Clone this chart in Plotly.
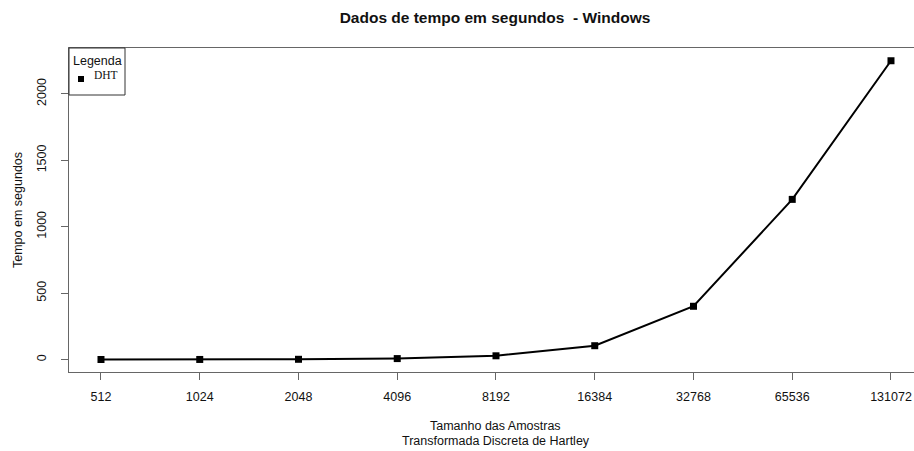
import plotly.graph_objects as go

# Sample sizes (categorical x axis) and DHT run time in seconds
sizes = ["512", "1024", "2048", "4096", "8192", "16384", "32768", "65536", "131072"]
dht_seconds = [0.1, 0.4, 1.7, 7, 28, 104, 401, 1206, 2250]
y_ticks = [0, 500, 1000, 1500, 2000]

FONT = "Liberation Sans, Arial, sans-serif"
AXIS_COLOR = "#666666"
pos = list(range(len(sizes)))

fig = go.Figure()
fig.add_trace(go.Scatter(
    x=pos, y=dht_seconds, mode="lines+markers", name="DHT",
    line=dict(color="black", width=2),
    marker=dict(symbol="square", size=7, color="black"),
    showlegend=False,
))

fig.update_layout(
    width=914, height=451,
    margin=dict(l=69, r=0, t=48, b=79),
    paper_bgcolor="white", plot_bgcolor="white",
    font=dict(family=FONT, size=12, color="#111111"),
    title=dict(
        text="<b>Dados de tempo em segundos  - Windows</b>",
        x=495 / 914, xanchor="center", xref="container",
        y=1 - 18 / 451, yanchor="middle", yref="container",
        font=dict(family=FONT, size=15.5, color="#111111"),
    ),
    xaxis=dict(
        range=[-0.324, 8.233], tickvals=pos, ticktext=sizes,
        showgrid=False, zeroline=False,
        showline=True, linecolor=AXIS_COLOR, linewidth=1, mirror=True,
        ticks="outside", ticklen=7, tickcolor=AXIS_COLOR,
        ticklabelstandoff=6,
        tickfont=dict(size=12.5, color="#111111"),
    ),
    yaxis=dict(
        range=[-94, 2346], tickvals=y_ticks,
        showgrid=False, zeroline=False,
        showline=True, linecolor=AXIS_COLOR, linewidth=1,
        ticks="outside", ticklen=7, tickcolor=AXIS_COLOR,
        ticklabelstandoff=10,
        tickangle=-90, tickfont=dict(size=12.5, color="#111111"),
    ),
    showlegend=False,
)

# Axis titles
fig.add_annotation(text="Tempo em segundos", textangle=-90, showarrow=False,
                   xref="paper", yref="paper", x=0, xanchor="center",
                   y=0.5, yanchor="middle", xshift=-51,
                   font=dict(size=12.5))
fig.add_annotation(text="Tamanho das Amostras", showarrow=False,
                   xref="x", yref="paper", x=4, xanchor="center",
                   y=0, yanchor="middle", yshift=-54,
                   font=dict(size=12.5))
fig.add_annotation(text="Transformada Discreta de Hartley", showarrow=False,
                   xref="x", yref="paper", x=4, xanchor="center",
                   y=0, yanchor="middle", yshift=-69,
                   font=dict(size=12.5))

# Legend box in the top-left corner of the plot
fig.add_shape(type="rect", xref="paper", yref="paper",
              x0=0, x1=56 / 845, y0=1 - 47 / 324, y1=1,
              line=dict(color="#333333", width=1), fillcolor="white", layer="above")
fig.add_annotation(text="Legenda", showarrow=False, xref="paper", yref="paper",
                   x=28.5 / 845, xanchor="center", y=1, yanchor="middle", yshift=-12.5,
                   font=dict(size=12.5))
fig.add_shape(type="rect", xref="paper", yref="paper",
              x0=9 / 845, x1=15 / 845, y0=1 - 34 / 324, y1=1 - 28 / 324,
              line=dict(color="black", width=0), fillcolor="black", layer="above")
fig.add_annotation(text="DHT", showarrow=False, xref="paper", yref="paper",
                   x=23 / 845, xanchor="left", y=1, yanchor="middle", yshift=-27,
                   font=dict(family="Liberation Serif, Times New Roman, serif", size=11.5))

fig.write_html("out.html")
